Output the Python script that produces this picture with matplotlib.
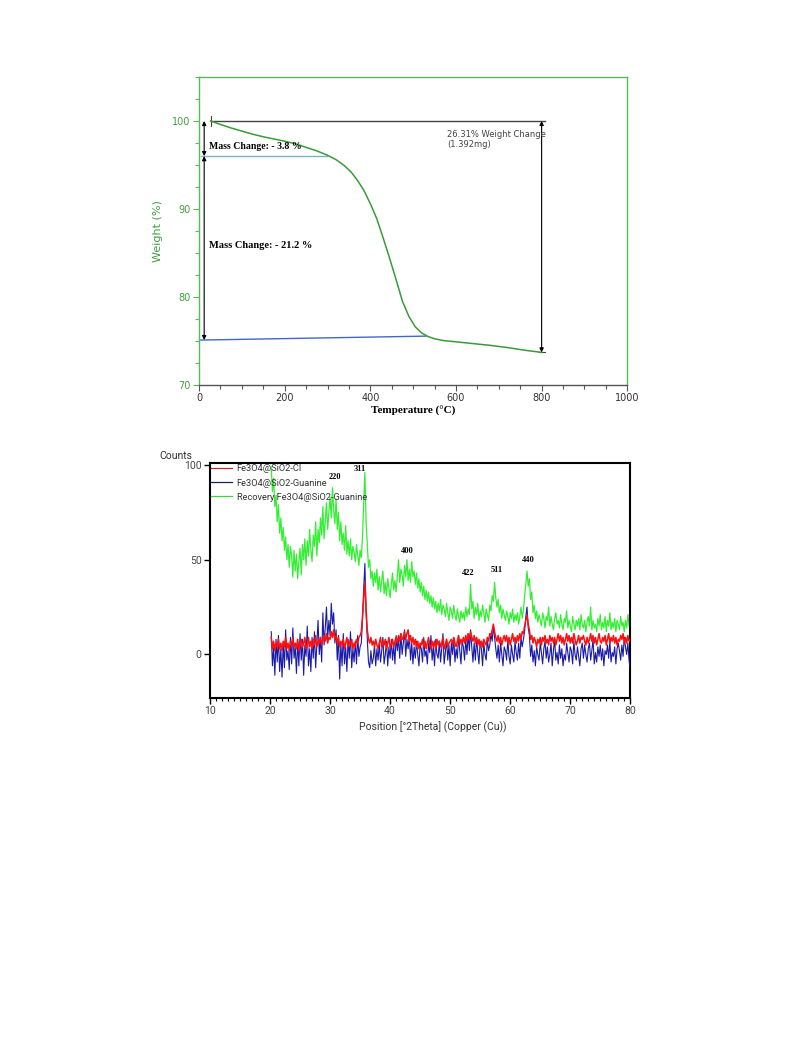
import numpy as np
import matplotlib
matplotlib.use("Agg")
import matplotlib.pyplot as plt
from matplotlib.ticker import MultipleLocator
from matplotlib.lines import Line2D

# ---------------- TGA data ----------------
tga_temp = [27, 50, 75, 100, 125, 150, 175, 200, 225, 250, 275, 300, 320, 340,
            355, 370, 385, 400, 415, 430, 445, 460, 475, 490, 505, 520, 535,
            550, 570, 600, 640, 680, 720, 760, 800]
tga_weight = [100.0, 99.6, 99.2, 98.85, 98.5, 98.2, 97.95, 97.7, 97.4, 97.0, 96.6,
              96.1, 95.6, 94.9, 94.2, 93.25, 92.1, 90.6, 88.9, 86.7, 84.4, 82.0,
              79.5, 77.8, 76.6, 75.9, 75.5, 75.25, 75.05, 74.9, 74.7, 74.5,
              74.25, 73.95, 73.7]
tga_xticks = [0, 200, 400, 600, 800, 1000]
tga_yticks = [70, 80, 90, 100]
step1_start, step1_end = 100.0, 96.0
step2_end = 75.1
step2_line_end = 75.55
final_weight = 73.7

# ---------------- XRD data (2theta 20.2 ... 80.0, step 0.2) ----------------
xrd_theta = np.round(np.arange(20.2, 80.001, 0.2), 1)
xrd_recovery = [
    99, 86, 93, 78, 84,  70, 79, 64, 72, 60,  67, 55, 62, 50, 58,  46, 57, 52, 41, 55,
    44, 53, 40, 49, 56,  42, 58, 50, 61, 47,  60, 52, 66, 55, 49,  63, 57, 70, 52, 66,
    59, 72, 63, 78, 61,  70, 80, 66, 75, 83,  72, 88, 76, 69, 82,  66, 75, 60, 70, 58,
    64, 55, 68, 53, 60,  52, 61, 50, 57, 54,  49, 58, 52, 47, 55,  51, 62, 80, 96, 70,
    58, 46, 50, 40, 44,  36, 43, 38, 45, 34,  41, 33, 39, 44, 32,  38, 31, 40, 35, 30,
    37, 43, 34, 39, 33,  41, 50, 38, 45, 42,  36, 47, 41, 50, 39,  45, 38, 49, 41, 44,
    37, 43, 35, 40, 33,  38, 31, 36, 29, 34,  28, 33, 27, 31, 25,  30, 24, 28, 22, 27,
    23, 29, 21, 26, 24,  20, 27, 22, 18, 25,  23, 19, 26, 21, 18,  24, 20, 17, 23, 19,
    22, 18, 25, 20, 24,  21, 37, 24, 28, 19,  25, 21, 27, 18, 23,  20, 26, 22, 17, 24,
    21, 18, 26, 23, 31,  28, 38, 30, 25, 29,  22, 26, 19, 24, 21,  18, 23, 20, 16, 22,
    19, 24, 17, 21, 18,  22, 16, 20, 25, 19,  23, 31, 37, 44, 36,  40, 29, 33, 22, 26,
    19, 23, 17, 21, 18,  15, 22, 19, 14, 20,  18, 25, 15, 20, 16,  13, 19, 22, 16, 18,
    14, 21, 16, 13, 19,  17, 23, 14, 18, 15,  12, 20, 16, 13, 18,  15, 19, 13, 21, 16,
    14, 18, 12, 17, 20,  15, 25, 13, 18, 14,  16, 12, 19, 15, 21,  13, 17, 14, 20, 12,
    18, 15, 22, 13, 17,  14, 19, 12, 18, 16,  13, 20, 15, 17, 12,  18, 14, 21, 15, 17]
xrd_guanine = [
    12, -6, 4, -11, 8,  -4, 10, -9, 3, -12,  6, -7, 13, -3, 2,  -8, 9, -5, 14, -2,
    4, -10, 7, -6, 11,  -3, 8, -11, 5, -1,  15, -6, 3, -9, 9,  -2, 12, -7, 6, 18,
    0, 9, -4, 22, 5,  14, 25, 8, 18, 10,  27, 16, 22, 6, 13,  -3, 10, -13, 6, -6,
    11, -5, 4, -9, 8,  -2, 12, -7, 3, -4,  7, -5, 10, -1, 4,  6, 18, 35, 48, 22,
    8, -4, -7, 2, -5,  -2, 5, -6, 3, -3,  6, -4, 2, 9, -5,  0, 7, -6, 4, -2,
    8, -3, 5, -5, 10,  2, 9, -2, 11, 0,  6, 13, -1, 8, 3,  10, -3, 6, -5, 4,
    -2, 7, 0, -6, 5,  3, -4, 9, -1, 2,  -5, 6, 1, 10, -3,  4, -6, 8, 0, -2,
    7, -4, 3, 11, -5,  1, 8, -3, 5, -6,  6, 0, 9, -4, 3,  -2, 10, 2, -5, 7,
    4, -3, 8, 0, 11,  2, 13, 4, -4, 6,  -3, 9, 1, -5, 7,  3, -6, 6, 0, -3,
    8, 2, 5, 11, 7,  15, 9, 3, -2, 5,  -4, 6, 0, -6, 4,  2, -3, 8, -1, -5,
    5, 0, -4, 7, 1,  -3, 6, -2, 9, 4,  8, 12, 20, 25, 14,  10, -1, 5, -4, 2,
    -6, 4, 0, -3, 6,  1, -5, 3, 7, -2,  4, -4, 0, 6, -6,  2, 8, -3, 1, -5,
    5, -2, 3, -6, 0,  -3, 6, 1, -4, 4,  2, -5, 7, 0, -3,  4, -1, -6, 3, 6,
    -2, 5, 0, -4, 3,  6, -3, 2, 8, -5,  1, -4, 4, -1, 5,  -3, 3, -6, 2, 0,
    5, -2, 7, -4, 1,  -1, 4, -5, 3, 6,  2, -3, 5, -1, 9,  4, 0, 6, -3, -8]
xrd_cl = [
    9, 3, 7, 2, 6,  4, 8, 3, 6, 2,  7, 4, 9, 3, 6,  2, 7, 5, 9, 4,
    6, 3, 8, 2, 5,  8, 4, 6, 9, 3,  5, 9, 4, 7, 3,  8, 5, 10, 4, 7,
    6, 9, 5, 8, 10,  7, 11, 6, 9, 8,  12, 9, 13, 8, 10,  6, 9, 4, 7, 5,
    8, 3, 6, 9, 4,  7, 5, 8, 3, 6,  4, 8, 6, 9, 10,  12, 20, 30, 38, 24,
    13, 8, 6, 9, 5,  7, 4, 8, 5, 3,  6, 9, 4, 7, 5,  8, 3, 6, 9, 4,
    5, 8, 4, 7, 9,  6, 10, 7, 11, 8,  9, 12, 8, 11, 13,  7, 10, 6, 9, 5,
    8, 4, 7, 3, 6,  5, 8, 4, 7, 3,  6, 9, 5, 3, 7,  4, 7, 3, 8, 5,
    7, 4, 6, 9, 3,  5, 8, 4, 6, 7,  8, 5, 9, 6, 4,  7, 10, 5, 8, 6,
    9, 6, 10, 7, 11,  8, 12, 9, 7, 10,  6, 9, 5, 8, 4,  7, 4, 8, 6, 5,
    9, 7, 11, 10, 13,  16, 12, 9, 7, 10,  6, 9, 5, 8, 10,  7, 10, 6, 9, 5,
    8, 11, 7, 9, 6,  10, 7, 11, 8, 12,  11, 15, 18, 21, 16,  13, 8, 10, 6, 9,
    7, 4, 8, 6, 9,  5, 9, 7, 10, 6,  8, 5, 10, 7, 9,  6, 9, 5, 8, 11,
    7, 10, 6, 9, 5,  8, 11, 7, 10, 6,  9, 6, 11, 8, 5,  7, 10, 6, 9, 8,
    10, 7, 5, 9, 6,  8, 11, 7, 10, 6,  9, 5, 8, 11, 7,  6, 9, 7, 10, 5,
    8, 11, 6, 9, 7,  10, 6, 9, 5, 8,  7, 10, 8, 11, 6,  9, 6, 10, 7, 8]
xrd_labels = ["Fe3O4@SiO2-Cl", "Fe3O4@SiO2-Guanine", "Recovery Fe3O4@SiO2-Guanine"]
peak_names = ["220", "311", "400", "422", "511", "440"]
peak_x = [30.8, 34.9, 42.8, 53.0, 57.7, 63.0]
peak_y = [93.5, 98.0, 54.5, 43.0, 44.5, 49.8]
xrd_xticks = [10, 20, 30, 40, 50, 60, 70, 80]
xrd_yticks = [0, 50, 100]

# ---------------- figure ----------------
fig = plt.figure(figsize=(7.93, 10.57), dpi=100)
fig.patch.set_facecolor("white")

GREEN_AX = "#5cb85c"
GREEN_TXT = "#3f9f3f"
CURVE = "#3a9a3a"
SERIF = ["Liberation Serif", "DejaVu Serif"]
SANS = ["Roboto", "DejaVu Sans"]

# ----- TGA -----
ax1 = fig.add_axes([0.251, 0.6358, 0.540, 0.2914])
ax1.plot(tga_temp, tga_weight, color=CURVE, lw=1.1, zorder=3)
ax1.set_xlim(0, 1000)
ax1.set_ylim(70, 105)
ax1.set_xticks(tga_xticks)
ax1.set_yticks(tga_yticks)
ax1.xaxis.set_minor_locator(MultipleLocator(50))
ax1.yaxis.set_minor_locator(MultipleLocator(2.5))
for s in ["left", "top", "right"]:
    ax1.spines[s].set_color(GREEN_AX)
ax1.spines["bottom"].set_color("#555555")
for s in ax1.spines.values():
    s.set_linewidth(1.0)
ax1.tick_params(axis="y", colors=GREEN_AX, labelcolor=GREEN_TXT, labelsize=7,
                length=4, width=0.8, pad=2)
ax1.tick_params(axis="y", which="minor", colors=GREEN_AX, length=3, width=0.8)
ax1.tick_params(axis="x", colors="#555555", labelcolor="#333333", labelsize=7,
                length=4, width=0.8, pad=2)
ax1.tick_params(axis="x", which="minor", colors="#555555", length=3, width=0.8)
ax1.set_ylabel("Weight (%)", color=GREEN_TXT, fontsize=8, labelpad=7)
ax1.set_xlabel("Temperature (°C)", fontsize=8, fontweight="bold",
               family=SERIF, labelpad=2)

# annotations
ax1.plot([27, 808], [step1_start, step1_start], color="#444444", lw=1.0)
ax1.plot([27, 27], [99.4, 100.6], color="#444444", lw=0.8)
ax1.plot([793, 808], [final_weight, final_weight], color="#444444", lw=0.8)
ax1.plot([4, 298], [step1_end, step1_end], color="#7fb0c8", lw=1.0)
ax1.plot([4, 530], [step2_end, step2_line_end], color="#4466cc", lw=1.0)
arr = dict(arrowstyle="<|-|>", color="black", lw=0.8, mutation_scale=6,
           shrinkA=0, shrinkB=0)
ax1.annotate("", xy=(12, step1_end), xytext=(12, step1_start), arrowprops=arr)
ax1.annotate("", xy=(12, step2_end), xytext=(12, step1_end), arrowprops=arr)
ax1.annotate("", xy=(800, final_weight), xytext=(800, step1_start), arrowprops=arr)
ax1.text(24, 97.1, "Mass Change: - 3.8 %", family=SERIF, fontweight="bold",
         fontsize=7, va="center")
ax1.text(24, 85.9, "Mass Change: - 21.2 %", family=SERIF, fontweight="bold",
         fontsize=7.5, va="center")
ax1.text(579, 97.9, "26.31% Weight Change\n(1.392mg)", fontsize=6,
         color="#444444", va="center", linespacing=1.1)

# ----- XRD -----
ax2 = fig.add_axes([0.2648, 0.3396, 0.530, 0.2223])
ax2.plot(xrd_theta, xrd_recovery, color="#33ee33", lw=0.9, zorder=2)
ax2.plot(xrd_theta, xrd_guanine, color="#1a1aa8", lw=0.8, zorder=3)
ax2.plot(xrd_theta, xrd_cl, color="#ff1010", lw=1.1, zorder=4)
ax2.set_xlim(10, 80)
ax2.set_ylim(-23, 101)
ax2.set_xticks(xrd_xticks)
ax2.set_yticks(xrd_yticks)
ax2.xaxis.set_minor_locator(MultipleLocator(1))
for s in ax2.spines.values():
    s.set_linewidth(1.5)
    s.set_color("black")
ax2.tick_params(axis="both", labelsize=7.5, labelcolor="#444444", length=4,
                width=1.0, pad=2)
for lab in ax2.get_xticklabels() + ax2.get_yticklabels():
    lab.set_family(SANS)
ax2.tick_params(axis="x", which="minor", length=2.5, width=0.8)
ax2.set_xlabel("Position [°2Theta] (Copper (Cu))", fontsize=7.5, color="#333333",
               family=SANS)
ax2.xaxis.set_label_coords(0.53, -0.1)
ax2.text(-0.12, 1.01, "Counts", transform=ax2.transAxes, fontsize=7.5,
         color="#333333", va="bottom", ha="left", family=SANS)
for name, px, py in zip(peak_names, peak_x, peak_y):
    ax2.text(px, py, name, family=SERIF, fontweight="bold", fontsize=6,
             ha="center", va="center", zorder=6)
handles = [Line2D([], [], color="#b03030", lw=0.9),
           Line2D([], [], color="#202060", lw=0.9),
           Line2D([], [], color="#40d040", lw=0.9)]
leg = ax2.legend(handles, xrd_labels, loc="upper left", frameon=False,
                 prop={"family": SANS, "size": 6.7}, handlelength=2.2,
                 handletextpad=0.5, borderaxespad=0.0, borderpad=0.15,
                 labelspacing=0.55)
for t in leg.get_texts():
    t.set_color("#333333")
leg.set_zorder(5)

fig.savefig("out.png", dpi=100, facecolor="white")
